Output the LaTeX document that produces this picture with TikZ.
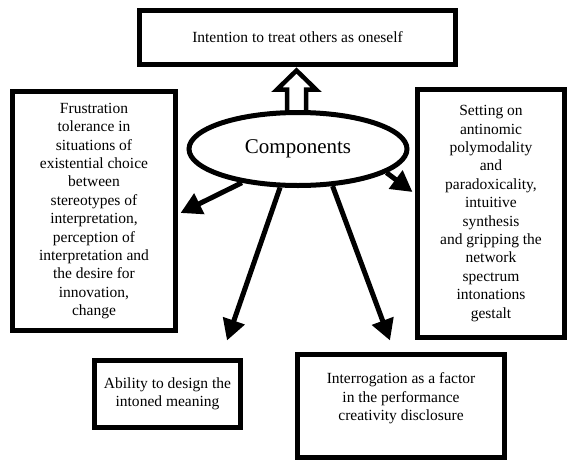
\documentclass[tikz,border=0pt]{standalone}
\usepackage{fontspec}
\setmainfont{Liberation Serif}
\usetikzlibrary{arrows.meta,shapes.geometric,calc}
\begin{document}
\begin{tikzpicture}[x=1pt,y=-1pt,
  box/.style={draw,line width=5pt,align=center,inner sep=0pt,fill=white,
    font=\fontsize{15.5}{18.4}\selectfont},
  oval/.style={draw,ellipse,line width=5pt,fill=white,inner sep=0pt,
    font=\fontsize{21}{24}\selectfont},
  arr/.style={line width=5pt,-{Triangle[length=21pt 0 0,width=22pt 0 0]}},
  hollow/.style={draw,line width=4.5pt,fill=white,line join=miter}]
\useasboundingbox (0,0) rectangle (569,461);
\node[box,minimum width=316,minimum height=54] (top) at (297.5,37.5)
  {Intention to treat others as oneself};
\node[box,minimum width=163,minimum height=239] (left) at (94,211)
  {Frustration\\tolerance in\\situations of\\existential choice\\between\\stereotypes of\\interpretation,\\perception of\\interpretation and\\the desire for\\innovation,\\change};
\node[box,minimum width=147,minimum height=248] (right) at (491,213.5)
  {Setting on\\antinomic\\polymodality\\and\\paradoxicality,\\intuitive\\synthesis\\and gripping the\\network\\spectrum\\intonations\\gestalt};
\node[box,minimum width=146,minimum height=67] (bl) at (167.5,394)
  {Ability to design the\\intoned meaning};
\node[box,minimum width=207,minimum height=103] (br) at (401,406)
  {Interrogation as a factor\\in the performance\\creativity disclosure\\\mbox{}};
% hollow arrow
\coordinate (tip) at ($(top.south)+(-1,3.5)$);
\draw[hollow] (tip) -- ++(19.5,19) -- ++(-10,0) -- ++(0,32) -- ++(-19,0)
  -- ++(0,-32) -- ++(-10,0) -- cycle;
\node[oval,minimum width=218,minimum height=73] (comp) at (298,149) {Components};
% arrows
\coordinate (tl) at ($(left.east)+(2.5,2)$);
\coordinate (tr) at ($(right.west)+(-2.5,-21.5)$);
\coordinate (tdl) at ($(bl.north)+(59.5,-17.5)$);
\coordinate (tdr) at ($(br.north)+(-11,-11.5)$);
\draw[arr] (comp.211) -- (tl);
\draw[arr] (comp.345) -- (tr);
\draw[arr] (comp.245) -- (tdl);
\draw[arr] (comp.313) -- (tdr);
\end{tikzpicture}
\end{document}
